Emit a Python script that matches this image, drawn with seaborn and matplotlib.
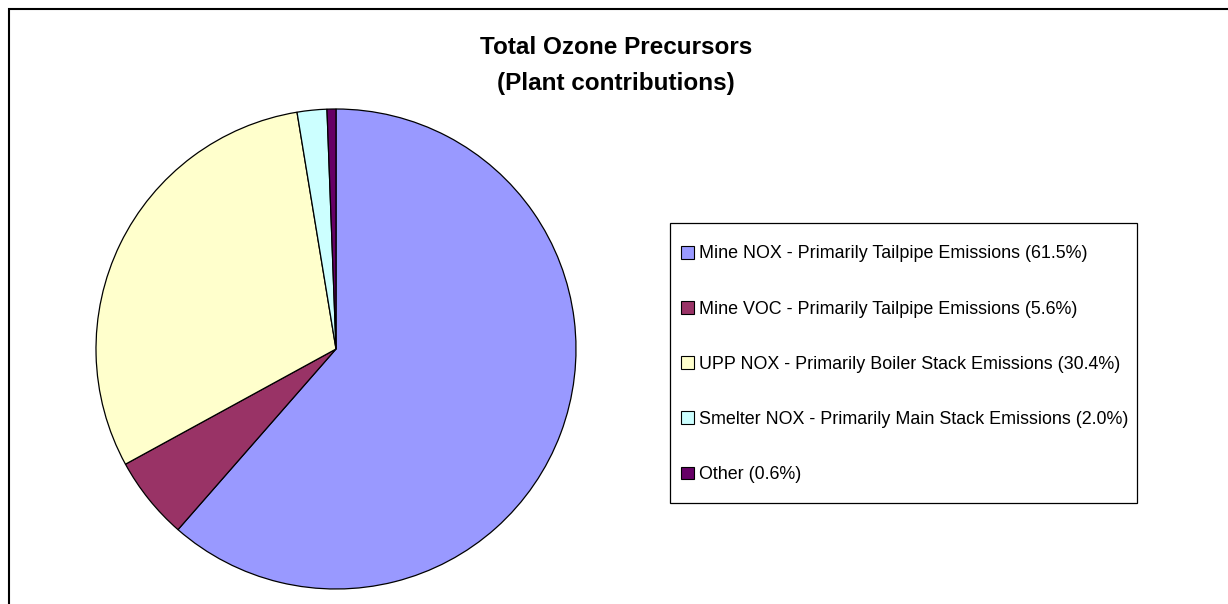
import matplotlib
matplotlib.use("Agg")
import matplotlib.pyplot as plt
import matplotlib.patches as mpatches
import seaborn as sns

# data
sources = ["Mine NOX - Primarily Tailpipe Emissions",
           "Mine VOC - Primarily Tailpipe Emissions",
           "UPP NOX - Primarily Boiler Stack Emissions",
           "Smelter NOX - Primarily Main Stack Emissions",
           "Other"]
shares = [61.5, 5.6, 30.4, 2.0, 0.6]
colors = ["#9999FF", "#993366", "#FFFFCC", "#CCFFFF", "#660066"]

sns.set_style("white")
plt.rcParams['font.family'] = ['Liberation Sans', 'DejaVu Sans']
plt.rcParams['text.color'] = 'black'

W, H = 1228, 604
fig = plt.figure(figsize=(W / 100, H / 100), dpi=100)

# outer chart frame (only top and left visible in the crop)
fig.patches.append(mpatches.Rectangle((8.5 / W, -0.1), 1.2, 1 - 8.5 / H + 0.1,
                                      transform=fig.transFigure, fill=False,
                                      edgecolor="black", linewidth=1.5))

# pie centred at (336, 349) px, radius 240 px
cx, cy, r = 336, 349, 240
ax = fig.add_axes([(cx - r) / W, (H - cy - r) / H, 2 * r / W, 2 * r / H])
wedges, _ = ax.pie(shares, colors=colors, startangle=90, counterclock=False,
                   wedgeprops=dict(edgecolor="black", linewidth=0.9))
ax.set_xlim(-1, 1)
ax.set_ylim(-1, 1)
ax.set_aspect("equal")
ax.axis("off")

fig.text(616 / W, 1 - 65.5 / H, "Total Ozone Precursors\n(Plant contributions)",
         ha="center", va="center", fontsize=17.5, fontweight="bold", linespacing=1.7)

# legend box
fig.patches.append(mpatches.Rectangle((670 / W, 1 - 503 / H), 467 / W, 280 / H,
                                      transform=fig.transFigure, fill=False,
                                      edgecolor="black", linewidth=0.9))

labels = [f"{s} ({v:.1f}%)" for s, v in zip(sources, shares)]
handles = [mpatches.Patch(facecolor=c, edgecolor="black", linewidth=0.8) for c in colors]
leg = fig.legend(handles, labels, loc="upper left",
                 bbox_to_anchor=(681 / W, 1 - 245.5 / H), fontsize=12.9,
                 frameon=False, handlelength=0.7, handleheight=0.7,
                 handletextpad=0.3, labelspacing=2.13, borderpad=0,
                 borderaxespad=0)

fig.savefig("out.png", dpi=100)
